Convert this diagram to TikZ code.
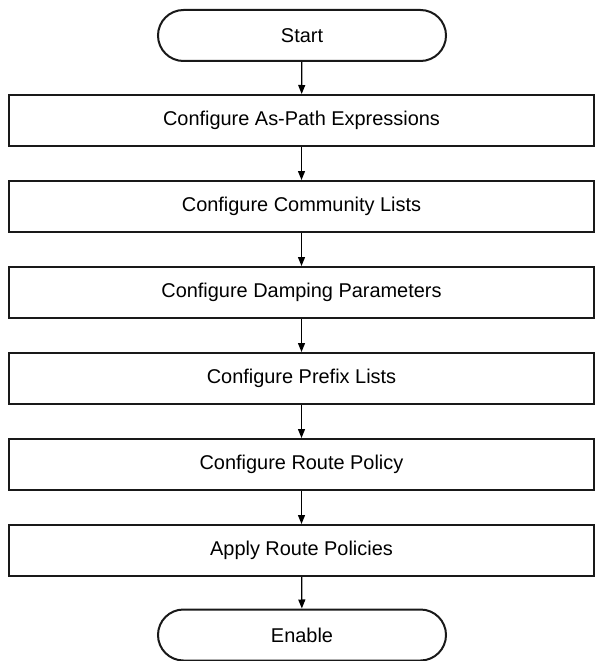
\documentclass[tikz,border=0pt]{standalone}
\usepackage{fontspec}
\setmainfont{Liberation Sans}
\usetikzlibrary{arrows.meta,shapes.misc}
\begin{document}
\begin{tikzpicture}[x=1bp,y=-1bp,
  stepbox/.style={draw=black!90,line width=2bp,minimum width=585bp,minimum height=51bp,inner sep=0pt,font=\fontsize{20}{22}\selectfont},
  term/.style={draw=black!90,line width=2bp,rounded rectangle,minimum width=288bp,minimum height=51bp,inner sep=0pt,font=\fontsize{20}{22}\selectfont},
  arr/.style={line width=1.2bp,-{Triangle[length=9bp,width=7bp]}}]
\useasboundingbox (0,0) rectangle (597,661);
\node[term] (s) at (302,35.5) {Start};
\node[stepbox] (b1) at (301.5,120.5) {Configure As-Path Expressions};
\node[stepbox] (b2) at (301.5,206.5) {Configure Community Lists};
\node[stepbox] (b3) at (301.5,292.5) {Configure Damping Parameters};
\node[stepbox] (b4) at (301.5,378.5) {Configure Prefix Lists};
\node[stepbox] (b5) at (301.5,464.5) {Configure Route Policy};
\node[stepbox] (b6) at (301.5,550.5) {Apply Route Policies};
\node[term] (e) at (302,635) {Enable};
\draw[arr] (s) -- (b1);
\draw[arr] (b1) -- (b2);
\draw[arr] (b2) -- (b3);
\draw[arr] (b3) -- (b4);
\draw[arr] (b4) -- (b5);
\draw[arr] (b5) -- (b6);
\draw[arr] (b6) -- (e);
\end{tikzpicture}
\end{document}
